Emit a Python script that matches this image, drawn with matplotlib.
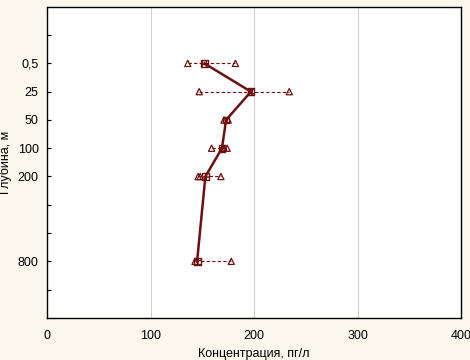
import numpy as np
import matplotlib
matplotlib.use("Agg")
import matplotlib.pyplot as plt

plt.rcParams["font.family"] = ["Liberation Sans", "DejaVu Sans"]

# category slots on the depth axis (top to bottom), blank ones are unlabeled
depth_labels = ["", "0,5", "25", "50", "100", "200", "", "", "800", ""]
depths = ["0,5", "25", "50", "100", "200", "800"]
slot = {"0,5": 2, "25": 3, "50": 4, "100": 5, "200": 6, "800": 9}

# concentration, pg/l
means = [152, 197, 173, 169, 153, 145]
replicates = [
    [136, 182],
    [147, 234],
    [171, 175],
    [159, 171, 174],
    [146, 148, 168],
    [143, 178],
]

BG = "#fcf8ee"
RED = "#6e1010"

fig = plt.figure(figsize=(4.7, 3.6), dpi=100, facecolor=BG)
ax = fig.add_axes([0.1, 0.117, 0.881, 0.864])
ax.set_facecolor("white")

ys = [slot[d] for d in depths]
for y, m, reps in zip(ys, means, replicates):
    vals = reps + [m]
    ax.plot([min(vals), max(vals)], [y, y], ls=(0, (3, 2)), color=RED, lw=0.8, zorder=2)
    ax.scatter(reps, [y] * len(reps), marker="^", s=20, facecolor="none",
               edgecolor=RED, linewidths=0.9, zorder=3)
ax.plot(means, ys, color=RED, lw=1.8, zorder=4)
ax.scatter(means, ys, marker="s", s=24, facecolor="none", edgecolor=RED,
           hatch="++++", linewidths=1.0, zorder=5)

ax.set_xlim(0, 400)
ax.set_ylim(11, 0)
ax.set_xticks([0, 100, 200, 300, 400])
ax.set_yticks(range(1, 11))
ax.set_yticklabels(depth_labels)
ax.grid(axis="x", color="#d0d0d0", lw=0.8)
ax.set_axisbelow(True)
ax.tick_params(axis="y", direction="in", length=3, labelsize=9, pad=6)
ax.tick_params(axis="x", length=0, labelsize=9, pad=9)
for s in ax.spines.values():
    s.set_linewidth(1.0)

ax.set_xlabel("Концентрация, пг/л", fontsize=9, labelpad=4)
ax.set_ylabel("Глубина, м", fontsize=9)
ax.yaxis.set_label_coords(-0.085, 0.5)

fig.savefig("out.png", dpi=100, facecolor=BG)
